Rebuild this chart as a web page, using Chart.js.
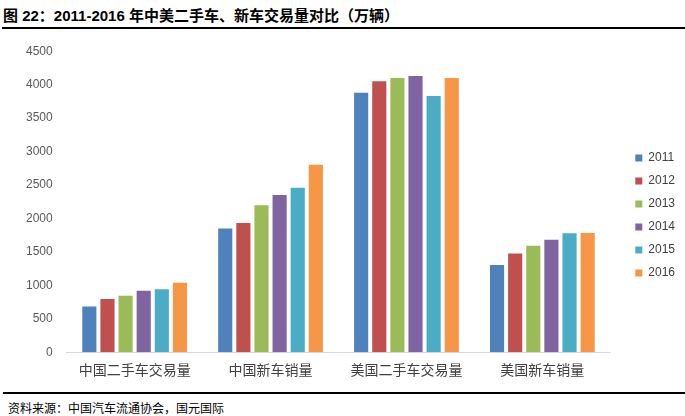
<!DOCTYPE html>
<html>
<head>
<meta charset="utf-8">
<script src="https://cdn.jsdelivr.net/npm/chart.js@4/dist/chart.umd.min.js"></script>
<style>
  html, body { margin: 0; padding: 0; background: #fff; }
  body { width: 685px; height: 416px; position: relative; overflow: hidden; }
  #title {
    position: absolute; left: 3px; top: 4px;
    font: bold 15px Arial, "Noto Sans CJK SC", sans-serif;
    color: #000; white-space: nowrap;
  }
  #topline { position: absolute; left: 2px; right: 0; top: 27px; border-top: 2px solid #000; }
  #bottomline { position: absolute; left: 3px; right: 0; top: 392px; border-top: 2px solid #000; }
  #source {
    position: absolute; left: 8px; top: 399px;
    font: 12px "Noto Sans CJK SC", sans-serif; color: #000; white-space: nowrap;
  }
  #wrap { position: absolute; left: 0; top: 30px; width: 685px; height: 360px; }
</style>
</head>
<body>
<div id="title">图 22：2011-2016 年中美二手车、新车交易量对比（万辆）</div>
<div id="topline"></div>
<div id="wrap"><canvas id="chart"></canvas></div>
<div id="bottomline"></div>
<div id="source">资料来源：中国汽车流通协会，国元国际</div>
<script>
const categories = ['中国二手车交易量', '中国新车销量', '美国二手车交易量', '美国新车销量'];
const years = ['2011', '2012', '2013', '2014', '2015', '2016'];
const colors = ['#4F81BD', '#C0504D', '#9BBB59', '#8064A2', '#4BACC6', '#F79646'];

// values per year, one per category (万辆)
const v2011 = [682, 1851, 3880, 1305];
const v2012 = [794, 1931, 4050, 1475];
const v2013 = [845, 2198, 4100, 1590];
const v2014 = [920, 2349, 4130, 1680];
const v2015 = [941, 2460, 3830, 1780];
const v2016 = [1039, 2803, 4100, 1782];
const series = [v2011, v2012, v2013, v2014, v2015, v2016];

const yTicks = [0, 500, 1000, 1500, 2000, 2500, 3000, 3500, 4000, 4500];

const datasets = years.map((y, i) => ({
    label: y,
    data: series[i],
    backgroundColor: colors[i],
    borderWidth: 0,
    barPercentage: 0.78,
    categoryPercentage: 0.8
}));

// push the legend a bit away from the plot area
const legendGap = {
    id: 'legendGap',
    afterInit(chart) {
        const lg = chart.legend;
        if (!lg) return;
        const fit = lg.fit.bind(lg);
        lg.fit = function () { fit(); this.width += 14; };
        const draw = lg.draw.bind(lg);
        lg.draw = function () { this.left += 14; draw(); this.left -= 14; };
    }
};

new Chart(document.getElementById('chart'), {
    type: 'bar',
    data: { labels: categories, datasets: datasets },
    plugins: [legendGap],
    options: {
        responsive: true,
        maintainAspectRatio: false,
        animation: false,
        layout: { padding: { top: 14, bottom: 3, left: 12, right: 0 } },
        plugins: {
            title: { display: false },
            tooltip: { enabled: false },
            legend: {
                position: 'right',
                labels: {
                    boxWidth: 7,
                    boxHeight: 7,
                    padding: 11,
                    color: '#404040',
                    font: { family: 'Arial', size: 12 }
                }
            }
        },
        scales: {
            x: {
                grid: { display: false, drawTicks: false },
                border: { display: true, color: '#D9D9D9', width: 1 },
                ticks: {
                    padding: 9,
                    color: '#404040',
                    font: { family: '"Noto Sans CJK SC"', size: 14 }
                }
            },
            y: {
                min: 0,
                max: 4500,
                afterBuildTicks: axis => { axis.ticks = yTicks.map(v => ({ value: v })); },
                grid: { display: false, drawTicks: false },
                border: { display: false },
                ticks: {
                    padding: 14,
                    color: '#595959',
                    font: { family: 'Arial', size: 12 },
                    callback: v => String(v)
                }
            }
        }
    }
});
</script>
</body>
</html>
